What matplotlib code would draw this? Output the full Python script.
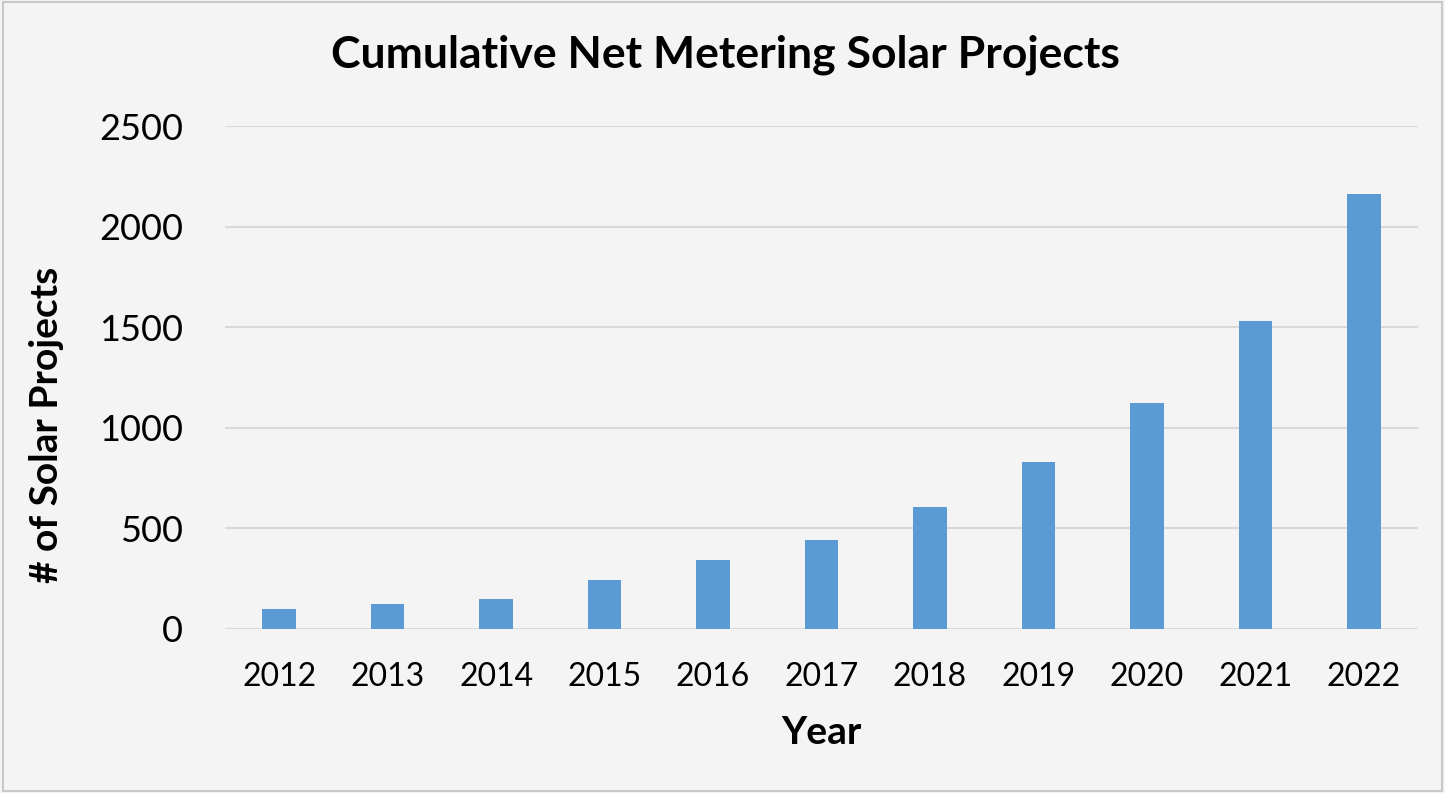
import numpy as np
import matplotlib.pyplot as plt

years = ["2012", "2013", "2014", "2015", "2016", "2017",
         "2018", "2019", "2020", "2021", "2022"]
projects = [101, 123, 148, 243, 343, 442, 606, 830, 1124, 1533, 2160]
yticks = [0, 500, 1000, 1500, 2000, 2500]

plt.rcParams['font.family'] = ['Lato', 'DejaVu Sans']

fig = plt.figure(figsize=(14.45, 7.93), dpi=100)
fig.patch.set_facecolor('#f4f4f4')

# plot area in figure pixels: x 225..1418, y 126..629
ax = fig.add_axes([225 / 1445, 1 - 629 / 793, (1418 - 225) / 1445, (629 - 126) / 793])
ax.set_facecolor('none')

x = np.arange(len(years))
ax.bar(x, projects, width=0.31, color='#5b9bd5', zorder=3)

ax.set_xlim(-0.5, len(years) - 0.5)
ax.set_ylim(0, 2500)
ax.set_yticks(yticks)
ax.set_xticks(x)
ax.set_xticklabels(years)
ax.grid(axis='y', color='#d9d9d9', linewidth=1.5, zorder=0)
ax.tick_params(axis='both', length=0)
ax.tick_params(axis='y', pad=30, labelsize=26)
ax.tick_params(axis='x', pad=24, labelsize=23)
for s in ax.spines.values():
    s.set_visible(False)

ax.set_xlabel('Year', fontsize=28, fontweight='bold')
ax.xaxis.set_label_coords(0.5, -(733 - 629) / 503)
ax.set_ylabel('# of Solar Projects', fontsize=28, fontweight='bold')
ax.yaxis.set_label_coords(-(225 - 47) / 1193, (629 - 425) / 503)
ax.yaxis.label.set_va('center')
ax.xaxis.label.set_va('center')
fig.text(725 / 1445, 1 - 55 / 793, 'Cumulative Net Metering Solar Projects',
         ha='center', va='center', fontsize=32, fontweight='bold')

# thin frame around the chart
fig.add_artist(plt.Rectangle((0.002, 0.003), 0.996, 0.994, transform=fig.transFigure,
                             fill=False, edgecolor='#c8c8c8', linewidth=1.5))

fig.savefig('out.png', dpi=100, facecolor=fig.get_facecolor())
